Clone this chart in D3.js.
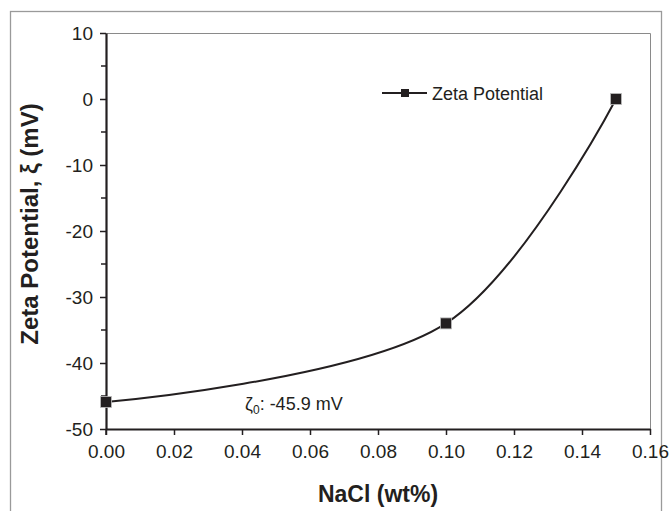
<!DOCTYPE html>
<html>
<head>
<meta charset="utf-8">
<script src="https://cdn.jsdelivr.net/npm/d3@7"></script>
<style>
  body { margin: 0; background: #fff; }
  svg { display: block; font-family: "Liberation Sans", Arial, sans-serif; }
</style>
</head>
<body>
<svg id="chart" width="671" height="511"></svg>
<script>
// NaCl concentration (wt%) and measured zeta potential (mV)
const nacl = [0.00, 0.10, 0.15];
const zeta = [-45.9, -34.0, 0.0];
const xTicks = [0.00, 0.02, 0.04, 0.06, 0.08, 0.10, 0.12, 0.14, 0.16];
const yTicks = [10, 0, -10, -20, -30, -40, -50];
const yMinorTicks = [5, -5, -15, -25, -35, -45];
const seriesName = "Zeta Potential";

const ink = "#231f20";
const svg = d3.select("#chart");

const x = d3.scaleLinear().domain([0, 0.16]).range([106, 650]);
const y = d3.scaleLinear().domain([-50, 10]).range([429, 33]);

// plain hyphen for negative numbers
const hyph = s => s.replace("\u2212", "-");

// outer frame
svg.append("rect")
  .attr("x", 10.5).attr("y", 11.5).attr("width", 651).attr("height", 520)
  .attr("fill", "none").attr("stroke", "#9a9a9a").attr("stroke-width", 1.3);

// plot area top and right edges
svg.append("path")
  .attr("d", `M${x(0)},${y(10) + 0.5}H${x(0.16) + 0.5}V${y(-50)}`)
  .attr("fill", "none").attr("stroke", "#8a8a8a").attr("stroke-width", 1);

// x axis
const xAxis = svg.append("g")
  .attr("transform", `translate(0,${y(-50)})`)
  .call(d3.axisBottom(x).tickValues(xTicks).tickFormat(d3.format(".2f"))
    .tickSize(6).tickSizeOuter(0));
xAxis.select(".domain").attr("stroke", ink).attr("stroke-width", 2.2);
xAxis.selectAll(".tick line").attr("stroke", ink).attr("stroke-width", 1.5);
xAxis.selectAll(".tick text")
  .attr("fill", ink).attr("font-size", 19).attr("dy", "1.05em")
  .attr("font-family", "Liberation Sans, Arial, sans-serif");

// y axis
const yAxis = svg.append("g")
  .attr("transform", `translate(${x(0)},0)`)
  .call(d3.axisLeft(y).tickValues(yTicks).tickFormat(d => hyph(d3.format("d")(d)))
    .tickSize(6).tickSizeOuter(0));
yAxis.select(".domain").attr("stroke", ink).attr("stroke-width", 2.2);
yAxis.selectAll(".tick line").attr("stroke", ink).attr("stroke-width", 1.5);
yAxis.selectAll(".tick text")
  .attr("fill", ink).attr("font-size", 19).attr("x", -13)
  .attr("font-family", "Liberation Sans, Arial, sans-serif");

// minor y ticks
svg.append("g").selectAll("line").data(yMinorTicks).join("line")
  .attr("x1", x(0) - 5).attr("x2", x(0))
  .attr("y1", d => y(d)).attr("y2", d => y(d))
  .attr("stroke", ink).attr("stroke-width", 1.5);

// origin cross: extend the y axis below the x axis
svg.append("line")
  .attr("x1", x(0)).attr("x2", x(0))
  .attr("y1", y(-50)).attr("y2", y(-50) + 6)
  .attr("stroke", ink).attr("stroke-width", 1.5);

// smoothed series line
const pts = nacl.map((v, i) => [v, zeta[i]]);
const line = d3.line()
  .x(d => x(d[0])).y(d => y(d[1]))
  .curve(d3.curveCatmullRom.alpha(0.5));
svg.append("path")
  .datum(pts)
  .attr("d", line)
  .attr("fill", "none").attr("stroke", ink).attr("stroke-width", 2);

// square markers
const ms = 11;
svg.append("g").selectAll("rect").data(pts).join("rect")
  .attr("x", d => x(d[0]) - ms / 2).attr("y", d => y(d[1]) - ms / 2)
  .attr("width", ms).attr("height", ms)
  .attr("fill", ink).attr("stroke", "#bdbdbd").attr("stroke-width", 0.8);

// legend
const lg = svg.append("g").attr("transform", "translate(382,93)");
lg.append("line").attr("x1", 0).attr("x2", 45).attr("y1", 0).attr("y2", 0)
  .attr("stroke", ink).attr("stroke-width", 2);
lg.append("rect").attr("x", 23 - 4).attr("y", -4).attr("width", 8).attr("height", 8)
  .attr("fill", ink);
lg.append("text").attr("x", 50).attr("y", 6.5)
  .attr("font-size", 18).attr("fill", ink).text(seriesName);

// annotation of the zero-salt value
const ann = svg.append("text")
  .attr("x", 245).attr("y", 410)
  .attr("font-size", 18).attr("fill", ink);
ann.append("tspan").attr("fill", ink).text("ζ");
ann.append("tspan").attr("fill", ink).attr("font-size", 12).attr("dy", 4).text("0");
ann.append("tspan").attr("fill", ink).attr("dy", -4)
  .text(`: ${hyph(d3.format(".1f")(zeta[0]))} mV`);

// axis titles
svg.append("text")
  .attr("x", x(0.08)).attr("y", 502)
  .attr("text-anchor", "middle").attr("font-weight", "bold")
  .attr("font-size", 23).attr("fill", ink).text("NaCl (wt%)");

svg.append("text")
  .attr("transform", `translate(38,224) rotate(-90)`)
  .attr("text-anchor", "middle").attr("font-weight", "bold")
  .attr("font-size", 24).attr("fill", ink).text("Zeta Potential, ξ (mV)");
</script>
</body>
</html>
